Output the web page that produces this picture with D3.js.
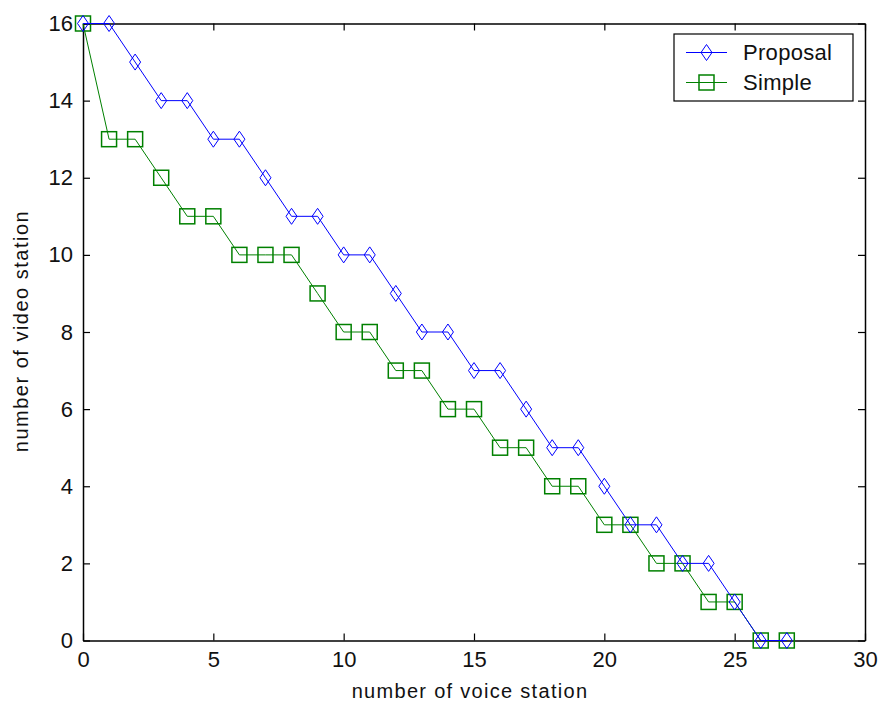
<!DOCTYPE html>
<html>
<head>
<meta charset="utf-8">
<script src="https://cdn.jsdelivr.net/npm/d3@7"></script>
<style>
  html, body { margin: 0; padding: 0; background: #fff; }
  svg text { font-family: Arial, "Liberation Sans", sans-serif; fill: #111; }
</style>
</head>
<body>
<svg id="chart" width="880" height="705"></svg>
<script>
// Number of voice stations on the x axis
const voiceStations = d3.range(0, 28);
// Admissible video stations for each scheme
const proposal = [16, 16, 15, 14, 14, 13, 13, 12, 11, 11, 10, 10, 9, 8, 8, 7, 7, 6, 5, 5, 4, 3, 3, 2, 2, 1, 0, 0];
const simple   = [16, 13, 13, 12, 11, 11, 10, 10, 10, 9, 8, 8, 7, 7, 6, 6, 5, 5, 4, 4, 3, 3, 2, 2, 1, 1, 0, 0];
const seriesNames = ["Proposal", "Simple"];
const xTicks = [0, 5, 10, 15, 20, 25, 30];
const yTicks = [0, 2, 4, 6, 8, 10, 12, 14, 16];
const xTitle = "number of voice station";
const yTitle = "number of video station";

const blue = "#0000ff", green = "#008000";
const box = { left: 83, top: 23.5, right: 865, bottom: 640.5 };

const svg = d3.select("#chart");
const x = d3.scaleLinear().domain([0, 30]).range([box.left, box.right]);
const y = d3.scaleLinear().domain([0, 16]).range([box.bottom, box.top]);

const tickFont = 22;

// axes: ticks pointing inward on all four sides
const tickLen = 7;
const axisG = svg.append("g");
axisG.append("g").attr("transform", `translate(0,${box.bottom})`)
  .call(d3.axisBottom(x).tickValues(xTicks).tickSize(-tickLen).tickPadding(11).tickSizeOuter(0));
axisG.append("g").attr("transform", `translate(0,${box.top})`)
  .call(d3.axisTop(x).tickValues(xTicks).tickSize(-tickLen).tickFormat("").tickSizeOuter(0));
axisG.append("g").attr("transform", `translate(${box.left},0)`)
  .call(d3.axisLeft(y).tickValues(yTicks).tickSize(-tickLen).tickPadding(10).tickSizeOuter(0));
axisG.append("g").attr("transform", `translate(${box.right},0)`)
  .call(d3.axisRight(y).tickValues(yTicks).tickSize(-tickLen).tickFormat("").tickSizeOuter(0));
axisG.selectAll(".domain").attr("stroke", "#000").attr("stroke-width", 1.5);
axisG.selectAll(".tick line").attr("stroke", "#000").attr("stroke-width", 1.2);
axisG.selectAll(".tick text").style("font-size", tickFont + "px")
  .style("font-family", "Arial, 'Liberation Sans', sans-serif").attr("fill", "#111");

// axis titles
svg.append("text").attr("x", (box.left + box.right) / 2 - 4).attr("y", 698)
  .attr("text-anchor", "middle").style("font-size", "20px").style("letter-spacing", "1.3px")
  .text(xTitle);
svg.append("text").attr("transform", `translate(28,${331}) rotate(-90)`)
  .attr("text-anchor", "middle").style("font-size", "20px").style("letter-spacing", "1.5px")
  .text(yTitle);

// series
const series = [
  { name: seriesNames[0], values: proposal, color: blue, shape: "diamond" },
  { name: seriesNames[1], values: simple, color: green, shape: "square" }
];
const line = d3.line().x((d, i) => x(voiceStations[i])).y(d => y(d));

function marker(g, shape, color) {
  if (shape === "diamond") {
    g.append("path").attr("d", "M0,-8L5.5,0L0,8L-5.5,0Z")
      .attr("fill", "none").attr("stroke", color).attr("stroke-width", 1);
  } else {
    g.append("rect").attr("x", -7.5).attr("y", -7.5).attr("width", 15).attr("height", 15)
      .attr("fill", "none").attr("stroke", color).attr("stroke-width", 1.5);
  }
}

// draw Simple first so Proposal sits on top
[series[1], series[0]].forEach(s => {
  const g = svg.append("g");
  g.append("path").datum(s.values).attr("d", line)
    .attr("fill", "none").attr("stroke", s.color).attr("stroke-width", 1);
  s.values.forEach((v, i) => {
    const mg = g.append("g").attr("transform", `translate(${x(voiceStations[i])},${y(v)})`);
    marker(mg, s.shape, s.color);
  });
});

// legend
const lg = svg.append("g");
lg.append("rect").attr("x", 674).attr("y", 34).attr("width", 179).attr("height", 67)
  .attr("fill", "#fff").attr("stroke", "#000").attr("stroke-width", 1.2);
series.forEach((s, i) => {
  const cy = 52.5 + i * 30;
  lg.append("line").attr("x1", 686).attr("x2", 727).attr("y1", cy).attr("y2", cy)
    .attr("stroke", s.color).attr("stroke-width", 1);
  const mg = lg.append("g").attr("transform", `translate(706.5,${cy})`);
  marker(mg, s.shape, s.color);
  lg.append("text").attr("x", 743).attr("y", cy).attr("dy", "0.36em")
    .style("font-size", tickFont + "px").style("letter-spacing", "0.3px").text(s.name);
});
</script>
</body>
</html>
